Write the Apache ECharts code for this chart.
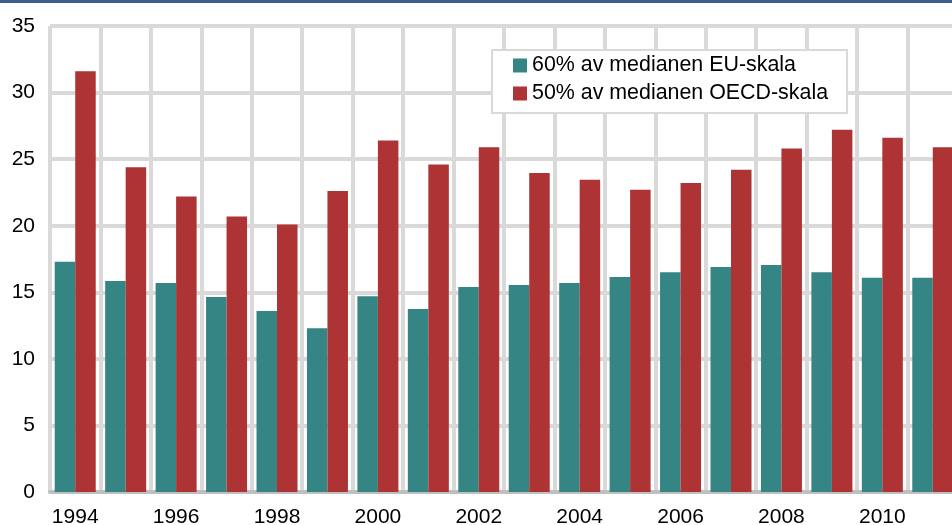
<!DOCTYPE html>
<html>
<head>
<meta charset="utf-8">
<title>Låg ekonomisk standard 1994-2011</title>
<script src="https://cdn.jsdelivr.net/npm/echarts@6/dist/echarts.min.js"></script>
<style>
  html, body { margin: 0; padding: 0; background: #fff; }
  #chart { width: 952px; height: 525px; }
</style>
</head>
<body>
<div id="chart"></div>
<script>
// years on the x axis
var years = ['1994', '1995', '1996', '1997', '1998', '1999', '2000', '2001', '2002',
             '2003', '2004', '2005', '2006', '2007', '2008', '2009', '2010', '2011'];

// 60% of median, EU scale
var euScale = [17.3, 15.85, 15.7, 14.65, 13.6, 12.3, 14.7, 13.75, 15.4,
               15.55, 15.7, 16.15, 16.5, 16.9, 17.05, 16.5, 16.1, 16.1];

// 50% of median, OECD scale
var oecdScale = [31.6, 24.4, 22.2, 20.7, 20.1, 22.6, 26.4, 24.6, 25.9,
                 23.95, 23.45, 22.7, 23.2, 24.2, 25.8, 27.2, 26.6, 25.9];

var seriesNames = ['60% av medianen EU-skala', '50% av medianen OECD-skala'];

var gridGrey = '#d9d9d9';
var font = 'Arial, "Liberation Sans", sans-serif';

var chart = echarts.init(document.getElementById('chart'));

chart.setOption({
    animation: false,
    color: ['#358585', '#ad3334'],
    graphic: [{
        type: 'rect',
        left: 0,
        top: 0,
        shape: { width: 952, height: 3 },
        style: { fill: '#405d8c' }
    }],
    grid: {
        left: 50,
        right: -6,   // last year is cut off by the right edge
        top: 26,
        bottom: 33,
        outerBoundsMode: 'none'  // keep plot where it is, labels may touch the edge
    },
    legend: {
        data: seriesNames,
        orient: 'vertical',
        left: 492,
        top: 50,
        icon: 'rect',
        itemWidth: 14,
        itemHeight: 14,
        itemGap: 7,
        padding: [5, 19, 9, 21],
        backgroundColor: '#fff',
        borderColor: gridGrey,
        borderWidth: 2,
        borderRadius: 0,
        textStyle: { fontSize: 21.4, color: '#000', fontFamily: font }
    },
    xAxis: {
        type: 'category',
        data: years,
        boundaryGap: true,
        axisLine: { lineStyle: { color: '#bfbfbf', width: 4 } },
        axisTick: { show: false },
        axisLabel: {
            interval: 1,
            margin: 15,
            fontSize: 21,
            color: '#000',
            fontFamily: font
        },
        splitLine: {
            show: true,
            interval: 0,
            lineStyle: { color: gridGrey, width: 4 }
        }
    },
    yAxis: {
        type: 'value',
        min: 0,
        max: 35,
        interval: 5,
        axisLine: { show: false },
        axisTick: { show: false },
        axisLabel: {
            margin: 15,
            fontSize: 21,
            color: '#000',
            fontFamily: font
        },
        splitLine: { lineStyle: { color: gridGrey, width: 4 } }
    },
    series: [
        {
            name: seriesNames[0],
            type: 'bar',
            barWidth: 20.5,
            barGap: '0%',
            data: euScale
        },
        {
            name: seriesNames[1],
            type: 'bar',
            barWidth: 20.5,
            barGap: '0%',
            data: oecdScale
        }
    ]
});
</script>
</body>
</html>
